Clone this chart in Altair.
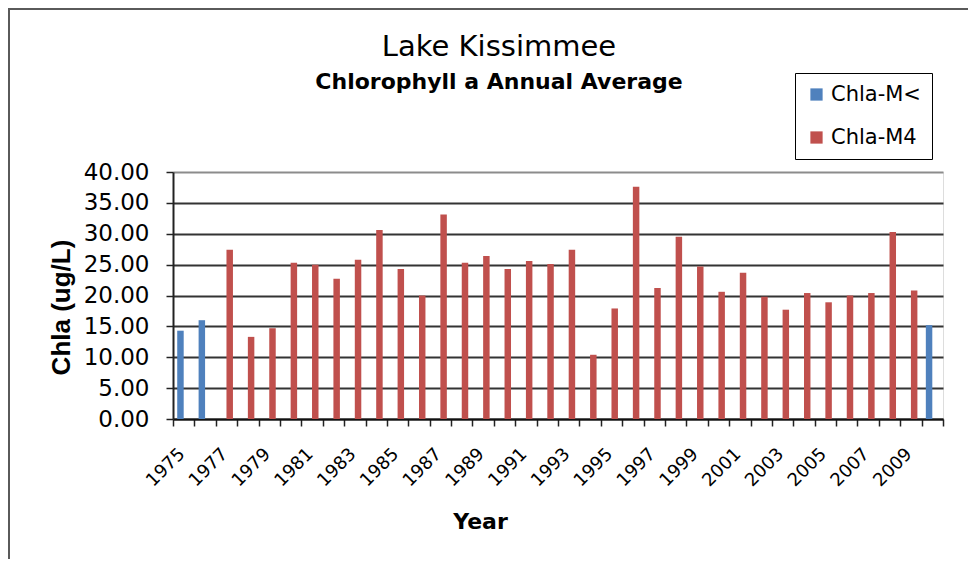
import altair as alt
import pandas as pd

years = [str(y) for y in range(1975, 2011)]
series_names = ["Chla-M<", "Chla-M4"]
series_colors = ["#4F81BD", "#C0504D"]

m_lt_years = ["1975", "1976", "2010"]
m_lt_values = [14.3, 16.0, 15.2]

m4_years = [str(y) for y in range(1977, 2010)]
m4_values = [27.4, 13.3, 14.7, 25.3, 25.0, 22.7, 25.8, 30.6, 24.3, 20.0,
             33.1, 25.3, 26.4, 24.3, 25.6, 25.1, 27.4, 10.4, 17.9, 37.6,
             21.2, 29.5, 24.7, 20.6, 23.7, 19.8, 17.7, 20.4, 18.9, 20.0,
             20.4, 30.3, 20.8]

y_ticks = [0, 5, 10, 15, 20, 25, 30, 35, 40]

rows = []
for y, v in zip(m_lt_years, m_lt_values):
    rows.append({"Year": y, "Series": series_names[0], "Chla": v})
for y, v in zip(m4_years, m4_values):
    rows.append({"Year": y, "Series": series_names[1], "Chla": v})
df = pd.DataFrame(rows)

W, H = 770, 247

bars = alt.Chart(df).mark_bar().encode(
    x=alt.X("Year:N", sort=years,
            scale=alt.Scale(domain=years, paddingInner=0, paddingOuter=0),
            axis=alt.Axis(
                title="Year",
                titleFont="DejaVu Sans", titleFontSize=22, titleFontWeight="bold",
                titleColor="black", titleX=307, titleY=109,
                titleBaseline="alphabetic", titleAlign="center",
                labelExpr="toNumber(datum.value) % 2 == 1 ? datum.value : ''",
                labelAngle=-45, labelAlign="right", labelBaseline="middle",
                labelFont="DejaVu Sans", labelFontSize=18, labelColor="black",
                labelPadding=25, labelOffset=-2, labelOverlap=False,
                tickBand="extent", tickSize=7, tickColor="#222", tickWidth=1.5,
                domainColor="#111", domainWidth=2, grid=False)),
    xOffset=alt.XOffset("Series:N",
                        scale=alt.Scale(domain=series_names, paddingInner=0, paddingOuter=0.65)),
    y=alt.Y("Chla:Q",
            scale=alt.Scale(domain=[0, 40], nice=False),
            axis=alt.Axis(
                title="Chla (ug/L)",
                titleFont="Liberation Sans", titleFontSize=26, titleFontWeight="bold",
                titleColor="black", titleAngle=-90, titleX=-104, titleY=135,
                titleAlign="center", titleBaseline="alphabetic",
                values=y_ticks, format=".2f",
                labelFont="DejaVu Sans", labelFontSize=23, labelColor="black",
                labelPadding=17,
                tickSize=7, tickColor="#222", tickWidth=1.5,
                domainColor="#222", domainWidth=2,
                grid=True,
                gridColor=alt.condition("datum.value == 40", alt.value("#8c8c8c"), alt.value("#333333")),
                gridWidth=2)),
    color=alt.Color("Series:N",
                    scale=alt.Scale(domain=series_names, range=series_colors),
                    legend=alt.Legend(
                        title=None, orient="none", legendX=622, legendY=-99,
                        direction="vertical",
                        symbolType="square", symbolSize=150, symbolStrokeWidth=0,
                        labelFont="DejaVu Sans", labelFontSize=21, labelColor="black",
                        labelOffset=4, rowPadding=21, padding=11,
                        strokeColor="black", fillColor="white")),
)

frame_df = pd.DataFrame({"k": [0]})
frame_top = alt.Chart(frame_df).mark_rule(color="#5a5a5a", strokeWidth=2).encode(
    x=alt.value(-165), x2=alt.value(W + 40), y=alt.value(-163))
frame_left = alt.Chart(frame_df).mark_rule(color="#5a5a5a", strokeWidth=2).encode(
    x=alt.value(-164), y=alt.value(-164), y2=alt.value(H + 160))

chart = alt.layer(frame_top, frame_left, bars).properties(
    width=W, height=H,
    title=alt.TitleParams(
        text="Lake Kissimmee", subtitle="Chlorophyll a Annual Average",
        font="DejaVu Sans", fontSize=29, fontWeight="normal", color="black",
        subtitleFont="DejaVu Sans", subtitleFontSize=22, subtitleFontWeight="bold",
        subtitleColor="black", subtitlePadding=10,
        anchor="middle", dx=-59, offset=-86),
    autosize=alt.AutoSizeParams(type="none"),
    padding={"left": 165, "top": 164, "right": 25, "bottom": 140},
).configure_view(stroke="#8c8c8c", strokeWidth=2).configure(background="white")

chart.save("out.html", embed_options={"renderer": "svg", "actions": False})
